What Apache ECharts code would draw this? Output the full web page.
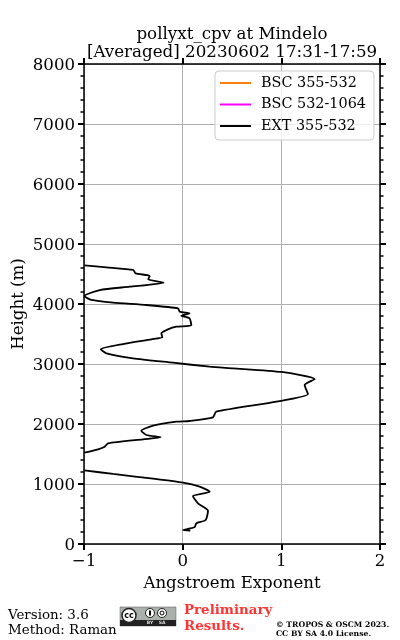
<!DOCTYPE html>
<html><head><meta charset="utf-8">
<style>html,body{margin:0;padding:0;background:#fff}#c{width:400px;height:640px}</style>
<script src="https://cdn.jsdelivr.net/npm/echarts@6/dist/echarts.min.js"></script>
</head><body><div id="c"></div>
<script>
const titleLines = ['pollyxt_cpv at Mindelo', '[Averaged] 20230602 17:31-17:59'];
const seriesNames = ['BSC 355-532', 'BSC 532-1064', 'EXT 355-532'];
const seriesColors = ['#ff7f0e', '#ff00ff', '#000000'];
const xTickLabels = {'-1': '\u22121', '0': '0', '1': '1', '2': '2'};
const extUpper = [
 [-0.996,4645],[-0.773,4611],[-0.503,4567],[-0.476,4511],[-0.334,4467],[-0.35,4411],[-0.193,4355],
 [-0.537,4288],[-0.84,4233],[-0.996,4133],[-0.925,4067],[-0.706,4022],[-0.368,3983],[-0.047,3928],
 [-0.03,3872],[0.07,3845],[-0.013,3805],[0.07,3761],[0.088,3645],[-0.064,3622],[-0.149,3578],
 [-0.216,3511],[-0.206,3445],[-0.317,3411],[-0.605,3333],[-0.831,3245],[-0.773,3178],[-0.503,3095],
 [-0.098,3022],[0.274,2955],[0.51,2928],[1.0,2867],[1.338,2750],[1.236,2650],[1.27,2500],[0.95,2372],
 [0.34,2205],[0.307,2112],[0.07,2050],[-0.064,2038],[-0.3,1972],[-0.419,1888],[-0.368,1817],
 [-0.223,1778],[-0.402,1745],[-0.757,1678],[-0.79,1622],[-0.858,1578],[-0.996,1522]
];
const extLower = [
 [-0.996,1228],[-0.706,1167],[-0.3,1088],[0.003,1022],[0.172,955],[0.274,872],[0.104,800],[0.155,678],
 [0.257,555],[0.233,400],[0.139,345],[0.12,278],[0.003,233],[0.078,222]
];
const extData = extUpper.concat([[null,null]], extLower);
const serif = '"DejaVu Serif"';
const chart = echarts.init(document.getElementById('c'), null, {renderer:'canvas'});
const axisLine = {show:true, onZero:false, lineStyle:{color:'#000', width:1.5}};
const major = {show:true, length:6, lineStyle:{color:'#000', width:2}};
const minor = {show:true, length:3.5, splitNumber:5, lineStyle:{color:'#000', width:1.5}};
const xBase = {type:'value', min:-1, max:2, interval:1};
const yBase = {type:'value', min:0, max:8000, interval:1000};
chart.setOption({
 animation:false,
 backgroundColor:'#fff',
 title:{text:titleLines.join('\n'), left:227, top:20, textAlign:'center',
  textStyle:{fontFamily:serif, fontSize:16.7, fontWeight:'normal', color:'#000', lineHeight:18.5}},
 grid:{left:84, right:20, top:64, bottom:96, containLabel:false, outerBoundsMode:'none'},
 xAxis:[
  Object.assign({}, xBase, {position:'bottom', name:'Angstroem Exponent', nameLocation:'middle', nameGap:31,
   nameTextStyle:{fontFamily:serif, fontSize:16.6, color:'#000'},
   axisLine, axisTick:{...major, inside:false},
   axisLabel:{fontFamily:serif, fontSize:16.6, color:'#000', margin:9, showMinLabel:true, showMaxLabel:true, formatter:v=>xTickLabels[v]},
   splitLine:{show:true, lineStyle:{color:'#b0b0b0', width:1}}}),
  Object.assign({}, xBase, {position:'top', axisLine, axisTick:major, axisLabel:{show:false}, splitLine:{show:false}})
 ],
 yAxis:[
  Object.assign({}, yBase, {position:'left', name:'Height (m)', nameLocation:'middle', nameGap:57, nameMoveOverlap:false,
   nameTextStyle:{fontFamily:serif, fontSize:16.6, color:'#000'},
   axisLine, axisTick:major, minorTick:minor,
   axisLabel:{fontFamily:serif, fontSize:16.6, color:'#000', margin:9, verticalAlign:'top', lineHeight:4, showMinLabel:true, showMaxLabel:true, formatter:v=>String(v)},
   splitLine:{show:true, lineStyle:{color:'#b0b0b0', width:1}}}),
  Object.assign({}, yBase, {position:'right', axisLine, axisTick:major, minorTick:minor, axisLabel:{show:false}, splitLine:{show:false}})
 ],
 legend:{orient:'vertical', left:215, top:71,
  data:seriesNames.map((n,i)=>({name:n, icon:'rect', itemStyle:{color:seriesColors[i]}})),
  itemWidth:31, itemHeight:2, itemGap:7.5,
  textStyle:{fontFamily:serif, fontSize:14.4, color:'#000', padding:[0,0,0,5]},
  padding:[5,8,7,5], backgroundColor:'rgba(255,255,255,0.8)', borderColor:'#ccc', borderWidth:1, borderRadius:4},
 series:[
  {name:seriesNames[0], type:'line', data:[], showSymbol:false, itemStyle:{color:seriesColors[0]}},
  {name:seriesNames[1], type:'line', data:[], showSymbol:false, itemStyle:{color:seriesColors[1]}},
  {name:seriesNames[2], type:'line', data:extData, showSymbol:false, connectNulls:false, clip:true, smooth:0.2,
   itemStyle:{color:seriesColors[2]}, lineStyle:{color:'#000', width:1.8}}
 ],
 graphic:[
  {type:'text', left:8, top:607.5, style:{text:'Version: 3.6\nMethod: Raman', fontFamily:serif, fontSize:13.4, lineHeight:15.5, fill:'#000'}},
  {type:'text', left:184, top:603, style:{text:'Preliminary\nResults.', fontFamily:serif, fontSize:13.4, fontWeight:'bold', lineHeight:15.5, fill:'#ff3333'}},
  {type:'text', left:276, top:620, style:{text:'\u00a9 TROPOS & OSCM 2023.\nCC BY SA 4.0 License.', fontFamily:serif, fontSize:7.7, fontWeight:'bold', lineHeight:9.5, fill:'#000'}},
  {type:'rect', shape:{x:120,y:607,width:56,height:19}, style:{fill:'#aab0ab', stroke:'#555', lineWidth:0.5}},
  {type:'rect', shape:{x:120,y:620,width:56,height:6}, style:{fill:'#222'}},
  {type:'circle', shape:{cx:129,cy:615.5,r:7}, style:{fill:'#fff', stroke:'#222', lineWidth:1.5}},
  {type:'text', x:129, y:615.5, style:{text:'cc', fontFamily:'"DejaVu Sans"', fontSize:8, fontWeight:'bold', fill:'#000', align:'center', verticalAlign:'middle'}},
  {type:'circle', shape:{cx:150,cy:613,r:4.5}, style:{fill:'#fff', stroke:'#222', lineWidth:1}},
  {type:'rect', shape:{x:149,y:610.5,width:2,height:5}, style:{fill:'#000'}},
  {type:'circle', shape:{cx:162,cy:613,r:4.5}, style:{fill:'#fff', stroke:'#222', lineWidth:1}},
  {type:'circle', shape:{cx:162,cy:613,r:2}, style:{fill:'#fff', stroke:'#000', lineWidth:1}},
  {type:'text', x:150, y:623, style:{text:'BY', fontFamily:'"DejaVu Sans"', fontSize:4.5, fontWeight:'bold', fill:'#ddd', align:'center', verticalAlign:'middle'}},
  {type:'text', x:162, y:623, style:{text:'SA', fontFamily:'"DejaVu Sans"', fontSize:4.5, fontWeight:'bold', fill:'#ddd', align:'center', verticalAlign:'middle'}}
 ]
});
</script></body></html>
